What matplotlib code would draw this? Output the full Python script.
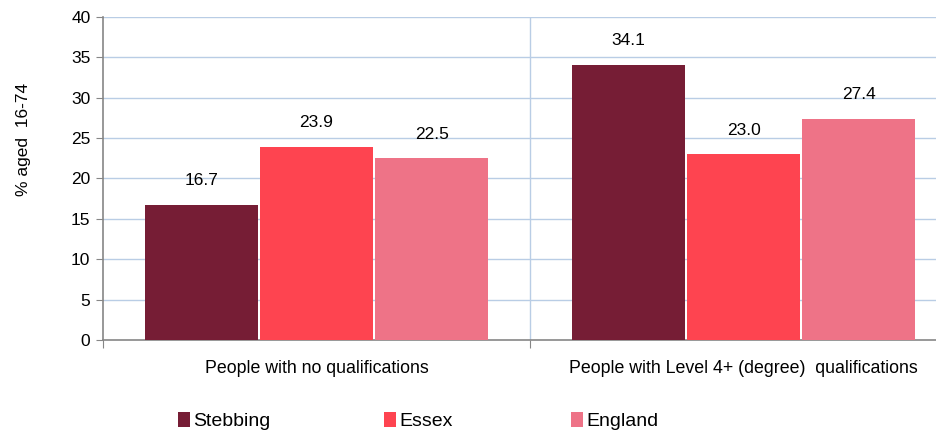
import matplotlib.pyplot as plt
import numpy as np
from matplotlib.patches import Patch

plt.rcParams['font.family'] = ['Liberation Sans', 'DejaVu Sans']

categories = ['People with no qualifications', 'People with Level 4+ (degree)  qualifications']
areas = ['Stebbing', 'Essex', 'England']
stebbing = [16.7, 34.1]
essex = [23.9, 23.0]
england = [22.5, 27.4]

colors = {'Stebbing': '#761d35', 'Essex': '#fe4450', 'England': '#ee7387'}
grid_color = '#b9cde5'
axis_color = '#868686'

fig = plt.figure(figsize=(9.37, 4.34), dpi=100)
# plot area runs past the right edge of the picture (cropped chart)
ax = fig.add_axes([103 / 937, 1 - 340 / 434, 854 / 937, (340 - 17) / 434])

x = np.arange(len(categories))
width = 0.265
step = 0.27
series = [stebbing, essex, england]
for i, (name, vals) in enumerate(zip(areas, series)):
    bars = ax.bar(x + (i - 1) * step, vals, width, color=colors[name], zorder=3)
    for bar, v in zip(bars, vals):
        ax.annotate(f'{v:.1f}', (bar.get_x() + bar.get_width() / 2, v),
                    xytext=(0, 12), textcoords='offset points',
                    ha='center', va='bottom', fontsize=12.5, color='#000000')

ax.set_xlim(-0.5, 1.5)
ax.set_ylim(0, 40)
ax.set_yticks(np.arange(0, 41, 5))
ax.tick_params(axis='y', labelsize=12.5, length=5, color=axis_color, pad=4)
ax.set_xticks([-0.5, 0.5, 1.5])
ax.set_xticklabels([])
ax.tick_params(axis='x', length=6, color=axis_color)
ax.set_xticks(x, minor=True)
ax.set_xticklabels(categories, minor=True, fontsize=12.8)
ax.tick_params(axis='x', which='minor', length=0, pad=14.5)

# gridlines
for yv in np.arange(5, 41, 5):
    ax.axhline(yv, color=grid_color, lw=1, zorder=1)
ax.axvline(0.5, color=grid_color, lw=1, zorder=1)

for s in ['top', 'right']:
    ax.spines[s].set_visible(False)
ax.spines['left'].set_color(axis_color)
ax.spines['bottom'].set_color(axis_color)
ax.spines['left'].set_linewidth(1.2)
ax.spines['bottom'].set_linewidth(1.2)

fig.text(24 / 937, 1 - 139 / 434, '% aged  16-74', rotation=90, ha='center', va='center', fontsize=12.5)

# legend entries spread along the bottom, one small legend each
legend_x = [178, 384, 571]
for name, lx in zip(areas, legend_x):
    leg = fig.legend([Patch(facecolor=colors[name], edgecolor='none')], [name],
                     loc='center left', bbox_to_anchor=(lx / 937, 1 - 421 / 434),
                     frameon=False, handlelength=0.6, handleheight=0.85,
                     handletextpad=0.2, borderpad=0, borderaxespad=0, fontsize=14)

fig.savefig('out.png', dpi=100)
